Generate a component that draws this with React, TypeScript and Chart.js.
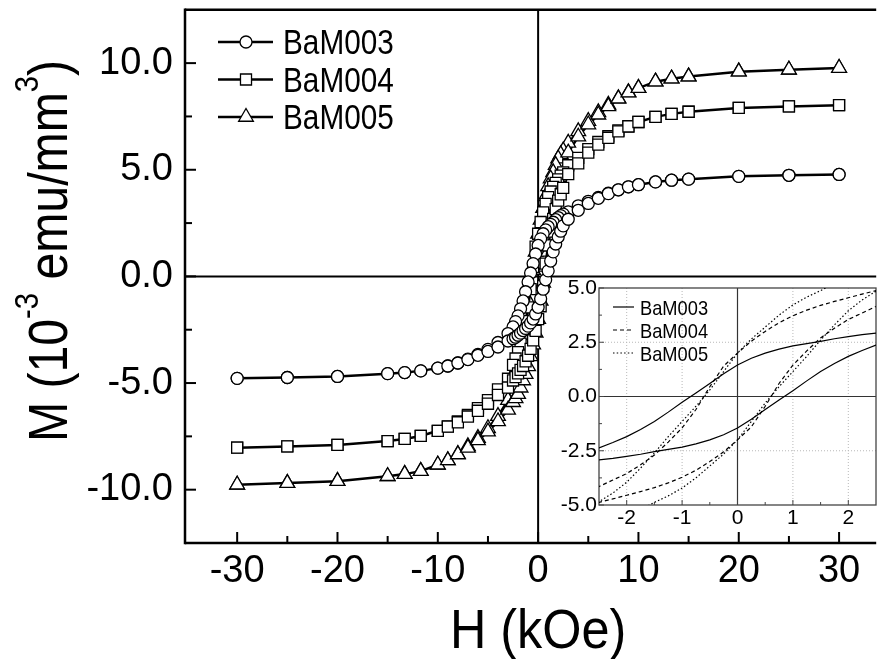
import React, { useEffect, useRef } from 'react';
import { Chart, registerables } from 'chart.js';

Chart.register(...registerables);

// ---------- data ----------
const seriesNames = ['BaM003', 'BaM004', 'BaM005'];
const xTitle = 'H (kOe)';

// field values (kOe) for the decreasing-field branch and the increasing-field branch
const fieldDown = [30, 25, 20, 15, 13.3, 11.7, 10, 9, 8, 7, 6, 5, 4, 3, 2.5, 2.25, 2, 1.75, 1.5, 1.25, 1, 0.75, 0.5, 0.25, 0, -0.25, -0.5, -0.75, -1, -1.25, -1.5, -1.75, -2, -2.25, -2.5, -3, -4, -5, -6, -7, -8, -9, -10, -11.7, -13.3, -15, -20, -25, -30];
const fieldUp = [-30, -25, -20, -15, -13.3, -11.7, -10, -9, -8, -7, -6, -5, -4, -3, -2.5, -2.25, -2, -1.75, -1.5, -1.25, -1, -0.75, -0.5, -0.25, 0, 0.25, 0.5, 0.75, 1, 1.25, 1.5, 1.75, 2, 2.25, 2.5, 3, 4, 5, 6, 7, 8, 9, 10, 11.7, 13.3, 15, 20, 25, 30];

// magnetisation (10^-3 emu/mm^3)
const m003Down = [4.78, 4.74, 4.69, 4.56, 4.51, 4.43, 4.30, 4.20, 4.06, 3.90, 3.70, 3.52, 3.31, 3.03, 2.92, 2.85, 2.76, 2.66, 2.54, 2.44, 2.33, 2.18, 2.00, 1.76, 1.45, 1.05, 0.60, 0.16, -0.26, -0.72, -1.15, -1.52, -1.85, -2.12, -2.37, -2.68, -3.10, -3.42, -3.66, -3.88, -4.06, -4.20, -4.30, -4.43, -4.51, -4.56, -4.69, -4.74, -4.78];
const m003Up = [-4.78, -4.74, -4.69, -4.56, -4.51, -4.43, -4.30, -4.20, -4.06, -3.90, -3.70, -3.52, -3.31, -3.03, -2.92, -2.85, -2.76, -2.66, -2.54, -2.44, -2.33, -2.18, -2.00, -1.76, -1.45, -1.05, -0.60, -0.16, 0.26, 0.72, 1.15, 1.52, 1.85, 2.12, 2.37, 2.68, 3.10, 3.42, 3.66, 3.88, 4.06, 4.20, 4.30, 4.43, 4.51, 4.56, 4.69, 4.74, 4.78];

const m004Down = [8.03, 7.97, 7.90, 7.72, 7.62, 7.48, 7.24, 7.04, 6.84, 6.57, 6.30, 5.97, 5.56, 5.21, 4.88, 4.72, 4.55, 4.38, 4.20, 3.98, 3.72, 3.40, 3.00, 2.55, 2.00, 1.40, 0.45, -0.60, -1.45, -2.10, -2.70, -3.15, -3.55, -3.85, -4.15, -4.80, -5.30, -5.80, -6.18, -6.50, -6.80, -7.03, -7.24, -7.48, -7.62, -7.72, -7.90, -7.97, -8.03];
const m004Up = [-8.03, -7.97, -7.90, -7.72, -7.62, -7.48, -7.24, -7.04, -6.84, -6.57, -6.30, -5.97, -5.56, -5.21, -4.88, -4.72, -4.55, -4.38, -4.20, -3.98, -3.72, -3.40, -3.00, -2.55, -2.00, -1.40, -0.45, 0.60, 1.45, 2.10, 2.70, 3.15, 3.55, 3.85, 4.15, 4.80, 5.30, 5.80, 6.18, 6.50, 6.80, 7.03, 7.24, 7.48, 7.62, 7.72, 7.90, 7.97, 8.03];

const m005Down = [9.77, 9.69, 9.60, 9.37, 9.27, 9.13, 8.83, 8.63, 8.35, 8.04, 7.69, 7.28, 6.80, 6.26, 5.90, 5.72, 5.52, 5.22, 4.88, 4.58, 4.22, 3.75, 3.20, 2.65, 2.00, 1.15, 0.30, -0.45, -1.15, -1.85, -2.60, -3.30, -3.95, -4.45, -4.85, -5.80, -6.55, -7.12, -7.58, -7.97, -8.33, -8.62, -8.83, -9.13, -9.27, -9.37, -9.60, -9.69, -9.77];
const m005Up = [-9.77, -9.69, -9.60, -9.37, -9.27, -9.13, -8.83, -8.63, -8.35, -8.04, -7.69, -7.28, -6.80, -6.26, -5.90, -5.72, -5.52, -5.22, -4.88, -4.58, -4.22, -3.75, -3.20, -2.65, -2.00, -1.15, -0.30, 0.45, 1.15, 1.85, 2.60, 3.30, 3.95, 4.45, 4.85, 5.80, 6.55, 7.12, 7.58, 7.97, 8.33, 8.62, 8.83, 9.13, 9.27, 9.37, 9.60, 9.69, 9.77];

// ticks
const xTicksMain = [-30, -20, -10, 0, 10, 20, 30];
const xMinorMain = [-25, -15, -5, 5, 15, 25];
const yTicksMain = [-10, -5, 0, 5, 10];
const yMinorMain = [-7.5, -2.5, 2.5, 7.5];
const xTicksInset = [-2, -1, 0, 1, 2];
const xMinorInset = [-1.5, -0.5, 0.5, 1.5];
const yTicksInset = [-5, -2.5, 0, 2.5, 5];
const yMinorInset = [-3.75, -1.25, 1.25, 3.75];

// ---------- styles ----------
const SANS = "'Liberation Sans', Arial, sans-serif";
const markerStyles = ['circle', 'rect', 'triangle'];
const markerRadius = [6, 7.8, 8.5];
const insetDash = [[], [4, 3], [1.5, 2.2]];

function loop(down: number[], up: number[]) {
  return fieldDown
    .map((h, i) => ({ x: h, y: down[i] }))
    .concat(fieldUp.map((h, i) => ({ x: h, y: up[i] })));
}

const loops = [loop(m003Down, m003Up), loop(m004Down, m004Up), loop(m005Down, m005Up)];

function seg(ctx: CanvasRenderingContext2D, x1: number, y1: number, x2: number, y2: number) {
  ctx.beginPath();
  ctx.moveTo(x1, y1);
  ctx.lineTo(x2, y2);
  ctx.stroke();
}

// text drawn horizontally compressed (the reference uses a condensed face)
function narrowText(ctx: CanvasRenderingContext2D, text: string, x: number, y: number, size: number, squeeze: number, align: 'left' | 'center', baseline: CanvasTextBaseline) {
  ctx.save();
  ctx.font = `${size}px ${SANS}`;
  ctx.textBaseline = baseline;
  ctx.textAlign = 'left';
  const w = ctx.measureText(text).width * squeeze;
  const x0 = align === 'center' ? x - w / 2 : x;
  ctx.translate(x0, y);
  ctx.scale(squeeze, 1);
  ctx.fillStyle = '#000';
  ctx.fillText(text, 0, 0);
  ctx.restore();
}

function drawMarker(ctx: CanvasRenderingContext2D, style: string, x: number, y: number, r: number) {
  ctx.beginPath();
  if (style === 'circle') {
    ctx.arc(x, y, r, 0, Math.PI * 2);
  } else if (style === 'rect') {
    const s = Math.SQRT1_2 * r;
    ctx.rect(x - s, y - s, 2 * s, 2 * s);
  } else {
    ctx.moveTo(x, y - r);
    ctx.lineTo(x + 0.866 * r, y + 0.5 * r);
    ctx.lineTo(x - 0.866 * r, y + 0.5 * r);
    ctx.closePath();
  }
  ctx.fillStyle = '#fff';
  ctx.fill();
  ctx.stroke();
}

const zeroPad = (s: any) => {
  s.paddingTop = 0; s.paddingBottom = 0; s.paddingLeft = 0; s.paddingRight = 0;
};

const mainDecor = {
  id: 'mainDecor',
  beforeDatasetsDraw(chart: any) {
    const { ctx, chartArea: a, scales } = chart;
    const x = scales.x, y = scales.y;
    ctx.save();
    ctx.strokeStyle = '#000';
    ctx.lineWidth = 2;
    const x0 = x.getPixelForValue(0);
    const y0 = y.getPixelForValue(0);
    seg(ctx, x0, a.top, x0, a.bottom);
    seg(ctx, a.left, y0, a.right, y0);
    ctx.lineWidth = 2.5;
    seg(ctx, a.left, a.top - 1.25, a.left, a.bottom + 1.25);
    seg(ctx, a.left, a.bottom, a.right, a.bottom);
    seg(ctx, a.left, a.top, a.right, a.top);
    ctx.lineWidth = 2;
    xTicksMain.forEach((v) => { const p = x.getPixelForValue(v); seg(ctx, p, a.bottom, p, a.bottom - 11); });
    xMinorMain.forEach((v) => { const p = x.getPixelForValue(v); seg(ctx, p, a.bottom, p, a.bottom - 7); });
    yTicksMain.forEach((v) => { const p = y.getPixelForValue(v); seg(ctx, a.left, p, a.left + 11, p); });
    yMinorMain.forEach((v) => { const p = y.getPixelForValue(v); seg(ctx, a.left, p, a.left + 7, p); });
    ctx.restore();
  },
  afterDraw(chart: any) {
    const { ctx, scales } = chart;
    ctx.save();
    // legend
    seriesNames.forEach((name, i) => {
      const yy = 42 + i * 37.5;
      ctx.strokeStyle = '#000';
      ctx.lineWidth = 2.5;
      seg(ctx, 218, yy, 273, yy);
      ctx.lineWidth = 1.3;
      drawMarker(ctx, markerStyles[i], 246, yy, markerRadius[i]);
      narrowText(ctx, name, 283, yy + 12, 35, 0.85, 'left', 'alphabetic');
    });
    // x axis title
    narrowText(ctx, xTitle, scales.x.getPixelForValue(0), 648, 56, 0.9, 'center', 'alphabetic');
    // y axis title with superscripts
    const F = 56;
    const squeeze = 0.86;
    const parts = [
      { t: 'M (10', sup: false },
      { t: '-3', sup: true },
      { t: ' emu/mm', sup: false },
      { t: '3', sup: true },
      { t: ')', sup: false },
    ];
    const fontFor = (sup: boolean) => `${sup ? Math.round(F * 0.6) : F}px ${SANS}`;
    let total = 0;
    parts.forEach((p) => { ctx.font = fontFor(p.sup); total += ctx.measureText(p.t).width; });
    ctx.translate(67, 251);
    ctx.rotate(-Math.PI / 2);
    ctx.scale(squeeze, 1);
    ctx.fillStyle = '#000';
    ctx.textAlign = 'left';
    ctx.textBaseline = 'alphabetic';
    let cx = -total / 2;
    parts.forEach((p) => {
      ctx.font = fontFor(p.sup);
      ctx.fillText(p.t, cx, p.sup ? -F * 0.52 : 0);
      cx += ctx.measureText(p.t).width;
    });
    ctx.restore();
  },
};

const insetDecor = {
  id: 'insetDecor',
  beforeDatasetsDraw(chart: any) {
    const { ctx, chartArea: a, scales } = chart;
    const x = scales.x, y = scales.y;
    ctx.save();
    ctx.strokeStyle = '#b8b8b8';
    ctx.lineWidth = 1;
    ctx.setLineDash([1, 2]);
    xTicksInset.forEach((v) => { if (v !== 0) { const p = x.getPixelForValue(v); seg(ctx, p, a.top, p, a.bottom); } });
    yTicksInset.forEach((v) => { if (v !== 0 && Math.abs(v) < 5) { const p = y.getPixelForValue(v); seg(ctx, a.left, p, a.right, p); } });
    ctx.setLineDash([]);
    ctx.strokeStyle = '#333';
    ctx.lineWidth = 1.2;
    const x0 = x.getPixelForValue(0), y0 = y.getPixelForValue(0);
    seg(ctx, x0, a.top, x0, a.bottom);
    seg(ctx, a.left, y0, a.right, y0);
    ctx.strokeStyle = '#444';
    ctx.lineWidth = 1.3;
    ctx.strokeRect(a.left, a.top, a.right - a.left, a.bottom - a.top);
    ctx.lineWidth = 1;
    xTicksInset.forEach((v) => { const p = x.getPixelForValue(v); seg(ctx, p, a.bottom, p, a.bottom - 5); });
    xMinorInset.forEach((v) => { const p = x.getPixelForValue(v); seg(ctx, p, a.bottom, p, a.bottom - 3); });
    yTicksInset.forEach((v) => { const p = y.getPixelForValue(v); seg(ctx, a.left, p, a.left + 5, p); });
    yMinorInset.forEach((v) => { const p = y.getPixelForValue(v); seg(ctx, a.left, p, a.left + 3, p); });
    ctx.restore();
  },
  afterDraw(chart: any) {
    const { ctx } = chart;
    ctx.save();
    seriesNames.forEach((name, i) => {
      const yy = 35 + i * 23;
      ctx.strokeStyle = '#000';
      ctx.lineWidth = 1.2;
      ctx.setLineDash(insetDash[i]);
      seg(ctx, 73, yy, 94, yy);
      ctx.setLineDash([]);
      narrowText(ctx, name, 100, yy + 7.5, 21, 0.87, 'left', 'alphabetic');
    });
    ctx.restore();
  },
};

export default function App() {
  const mainRef = useRef<HTMLCanvasElement | null>(null);
  const insetRef = useRef<HTMLCanvasElement | null>(null);

  useEffect(() => {
    document.body.style.margin = '0';
    document.documentElement.style.overflow = 'hidden';
    const main = new Chart(mainRef.current as HTMLCanvasElement, {
      type: 'scatter',
      data: {
        datasets: seriesNames.map((name, i) => ({
          label: name,
          data: loops[i],
          showLine: true,
          borderColor: '#000',
          borderWidth: 2.5,
          pointStyle: markerStyles[i] as any,
          pointRadius: markerRadius[i],
          pointBackgroundColor: '#fff',
          pointBorderColor: '#000',
          pointBorderWidth: 1.3,
          clip: 2,
        })),
      },
      options: {
        animation: false,
        responsive: false,
        devicePixelRatio: 1,
        events: [],
        layout: { padding: { top: 9, left: 0, right: 0, bottom: 0 } },
        plugins: { legend: { display: false }, tooltip: { enabled: false } },
        scales: {
          x: {
            type: 'linear',
            min: -35.2,
            max: 33.7,
            grid: { display: false, drawTicks: false },
            border: { display: false },
            afterBuildTicks: (s: any) => { s.ticks = xTicksMain.map((v) => ({ value: v })); },
            afterFit: (s: any) => { s.height = 116; zeroPad(s); },
            ticks: {
              autoSkip: false, maxRotation: 0, minRotation: 0, padding: 6, color: '#000',
              font: { family: SANS, size: 38 },
              callback: (v: any) => String(v),
            },
          },
          y: {
            type: 'linear',
            min: -12.5,
            max: 12.5,
            grid: { display: false, drawTicks: false },
            border: { display: false },
            afterBuildTicks: (s: any) => { s.ticks = yTicksMain.map((v) => ({ value: v })); },
            afterFit: (s: any) => { s.width = 185; zeroPad(s); },
            ticks: {
              autoSkip: false, padding: 12, color: '#000',
              font: { family: SANS, size: 38 },
              callback: (v: any) => Number(v).toFixed(1),
            },
          },
        },
      },
      plugins: [mainDecor],
    } as any);

    const inset = new Chart(insetRef.current as HTMLCanvasElement, {
      type: 'scatter',
      data: {
        datasets: seriesNames.map((name, i) => ({
          label: name,
          data: loops[i],
          showLine: true,
          borderColor: '#000',
          borderWidth: 1.2,
          borderDash: insetDash[i],
          pointRadius: 0,
        })),
      },
      options: {
        animation: false,
        responsive: false,
        devicePixelRatio: 1,
        events: [],
        layout: { padding: { top: 16, left: 0, right: 10, bottom: 0 } },
        plugins: { legend: { display: false }, tooltip: { enabled: false } },
        scales: {
          x: {
            type: 'linear', min: -2.5, max: 2.5,
            grid: { display: false, drawTicks: false },
            border: { display: false },
            afterBuildTicks: (s: any) => { s.ticks = xTicksInset.map((v) => ({ value: v })); },
            afterFit: (s: any) => { s.height = 37; zeroPad(s); },
            ticks: {
              autoSkip: false, maxRotation: 0, minRotation: 0, padding: 1, color: '#000',
              font: { family: SANS, size: 21 },
              callback: (v: any) => String(v),
            },
          },
          y: {
            type: 'linear', min: -5, max: 5,
            grid: { display: false, drawTicks: false },
            border: { display: false },
            afterBuildTicks: (s: any) => { s.ticks = yTicksInset.map((v) => ({ value: v })); },
            afterFit: (s: any) => { s.width = 59; zeroPad(s); },
            ticks: {
              autoSkip: false, padding: 2, color: '#000',
              font: { family: SANS, size: 21 },
              callback: (v: any) => Number(v).toFixed(1),
            },
          },
        },
      },
      plugins: [insetDecor],
    } as any);

    return () => { main.destroy(); inset.destroy(); };
  }, []);

  return (
    <div style={{ position: 'fixed', left: 0, top: 0, width: 886, height: 659, background: '#fff', overflow: 'hidden' }}>
      <canvas ref={mainRef} width={886} height={659} style={{ position: 'absolute', left: 0, top: 0, display: 'block' }} />
      <canvas ref={insetRef} width={346} height={270} style={{ position: 'absolute', left: 540, top: 272, display: 'block' }} />
    </div>
  );
}
